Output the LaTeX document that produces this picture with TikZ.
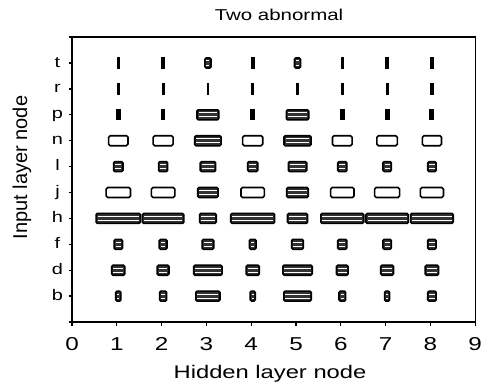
\documentclass[tikz,border=0pt]{standalone}
\usepackage{fontspec}
\setmainfont[FakeStretch=1.3]{Liberation Sans}
\newfontfamily\ylabfont{Liberation Sans}

\tikzset{
	cellbar/.style={draw=black, fill=black, line width=0.9pt},
	cellopen/.style={draw=black, fill=white, line width=1.2pt, rounded corners=1.2},
	cellfill/.style={draw=black, fill=black!80, line width=1.2pt, rounded corners=1},
	cellbar stripe/.style={draw=none},
	cellopen stripe/.style={draw=none},
	cellfill stripe/.style={draw=white, line width=0.75pt},
	ticknum/.style={font=\fontsize{14}{16}\selectfont, anchor=base},
	rowlab/.style={font=\fontsize{11.5}{13}\selectfont, anchor=base}}
\tikzset{every picture/.style={line width=1pt}}

% one cell: row, column, width, style
\newcommand\cellat[4]{%
	\pgfmathsetmacro\cx{73.5+44.8*#2}%
	\pgfmathsetmacro\cy{322-25.9*#1}%
	\pgfmathsetmacro\hw{max((#3-1.6)/2,0.5)}%
	\draw[#4] ({\cx-\hw},{\cy-5}) rectangle ({\cx+\hw},{\cy+5});
	\draw[#4 stripe] ({\cx-\hw+1.6},{\cy-2.1}) -- ({\cx+\hw-1.6},{\cy-2.1}) ({\cx-\hw+1.6},{\cy+2.1}) -- ({\cx+\hw-1.6},{\cy+2.1});}

\begin{document}
\begin{tikzpicture}[x=0.75pt,y=0.75pt,yscale=-1,xscale=1]
	\useasboundingbox (0,0) rectangle (484,389);

	%Shape: Frame
	\draw (72,37.1) -- (72,322) -- (475.5,322) -- (475.5,37.1) -- cycle ;
	\foreach \k in {0,...,11} \draw (68.5,{322-25.9*\k}) -- (72,{322-25.9*\k}) ;
	\foreach \c in {0,...,9} \draw ({72+44.8*\c},322) -- ({72+44.8*\c},325.5) ;

	% Row t
	\foreach \c/\w/\s in {1/4/cellbar, 2/4/cellbar, 3/7.7/cellfill, 4/4/cellbar, 5/7.7/cellfill, 6/4/cellbar, 7/4/cellbar, 8/4/cellbar}
		\cellat{10}{\c}{\w}{\s};
	% Row r
	\foreach \c/\w/\s in {1/3.6/cellbar, 2/3.6/cellbar, 3/2.8/cellbar, 4/3.6/cellbar, 5/3.8/cellbar, 6/3.8/cellbar, 7/3.5/cellbar, 8/3.8/cellbar}
		\cellat{9}{\c}{\w}{\s};
	% Row p
	\foreach \c/\w/\s in {1/5/cellbar, 2/5/cellbar, 3/23.5/cellfill, 4/5/cellbar, 5/24/cellfill, 6/5.5/cellbar, 7/5.3/cellbar, 8/5.5/cellbar}
		\cellat{8}{\c}{\w}{\s};
	% Row n
	\foreach \c/\w/\s in {1/21/cellopen, 2/21.5/cellopen, 3/28/cellfill, 4/21.7/cellopen, 5/28.7/cellfill, 6/21.3/cellopen, 7/22/cellopen, 8/20.7/cellopen}
		\cellat{7}{\c}{\w}{\s};
	% Row l
	\foreach \c/\w/\s in {1/11/cellfill, 2/10.7/cellfill, 3/17/cellfill, 4/11.7/cellfill, 5/20/cellfill, 6/10.7/cellfill, 7/10/cellfill, 8/10/cellfill}
		\cellat{6}{\c}{\w}{\s};
	% Row j
	\foreach \c/\w/\s in {1/26/cellopen, 2/25/cellopen, 3/22/cellfill, 4/25/cellopen, 5/23.3/cellfill, 6/25/cellopen, 7/26.7/cellopen, 8/24.7/cellopen}
		\cellat{5}{\c}{\w}{\s};
	% Row h
	\foreach \c/\w/\s in {1/46/cellfill, 2/43/cellfill, 3/18.3/cellfill, 4/45.5/cellfill, 5/21.7/cellfill, 6/44.5/cellfill, 7/44/cellfill, 8/44.3/cellfill}
		\cellat{4}{\c}{\w}{\s};
	% Row f
	\foreach \c/\w/\s in {1/10/cellfill, 2/9.3/cellfill, 3/13.3/cellfill, 4/8.3/cellfill, 5/13.3/cellfill, 6/10.7/cellfill, 7/10/cellfill, 8/10/cellfill}
		\cellat{3}{\c}{\w}{\s};
	% Row d
	\foreach \c/\w/\s in {1/14.7/cellfill, 2/13.3/cellfill, 3/30/cellfill, 4/14.7/cellfill, 5/31/cellfill, 6/13.3/cellfill, 7/14.3/cellfill, 8/15/cellfill}
		\cellat{2}{\c}{\w}{\s};
	% Row b
	\foreach \c/\w/\s in {1/6.7/cellfill, 2/8.7/cellfill, 3/25.7/cellfill, 4/6.7/cellfill, 5/29/cellfill, 6/8.3/cellfill, 7/6.7/cellfill, 8/10/cellfill}
		\cellat{1}{\c}{\w}{\s};

	% Text Node
	\foreach \c in {0,...,9} \node [ticknum] (x\c) at ({72+44.8*\c},350) {\c};
	% Text Node
	\foreach \k/\l in {1/b,2/d,3/f,4/h,5/j,6/l,7/n,8/p,9/r,10/t} \node [rowlab] (y\l) at (57.5,{326-25.9*\k}) {\l};
	% Text Node
	\draw (279,20.7) node [font=\fontsize{11.8}{14}\selectfont, anchor=base] (title) {Two abnormal};
	% Text Node
	\draw (270,378.3) node [font=\fontsize{13.7}{16}\selectfont, anchor=base] (xlab) {Hidden layer node};
	% Text Node
	\draw (27,167.5) node [font=\ylabfont\fontsize{15}{17}\selectfont, rotate=90, anchor=base] (ylab) {Input layer node};

\end{tikzpicture}
\end{document}
